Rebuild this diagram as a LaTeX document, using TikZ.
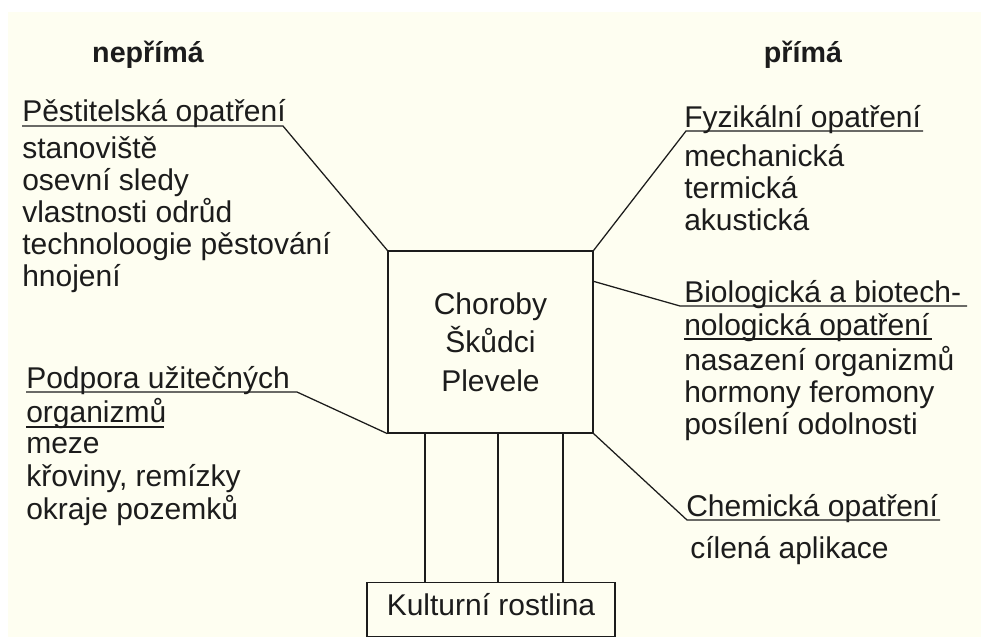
\documentclass[tikz,border=0pt]{standalone}
\usepackage{fontspec}
\setmainfont{Liberation Sans}
\usetikzlibrary{calc}
\definecolor{paper}{RGB}{254,254,241}
\definecolor{ink}{RGB}{28,28,28}
\begin{document}
\begin{tikzpicture}[x=0.75pt,y=-0.75pt,
  txt/.style={anchor=base west, inner sep=0pt, font=\fontsize{22.5}{24}\selectfont, text=ink},
  head/.style={anchor=base, inner sep=0pt, font=\fontsize{21.5}{24}\selectfont\bfseries, text=ink},
  wire/.style={draw=ink, line width=0.95pt},
  boxnode/.style={draw=ink, line width=0.95pt, inner sep=0pt, font=\fontsize{22.5}{24}\selectfont, text=ink}]
\fill[white] (0,0) rectangle (981,637);
\fill[paper] (8,12) rectangle (981,637);
\useasboundingbox (0,0) rectangle (981,637);

% headers
\node[head] (hl) at (148,62) {nepřímá};
\node[head] (hr) at (803,62) {přímá};

% central box
\node[boxnode, minimum width=153.75pt, minimum height=136.5pt, align=center,
      font=\fontsize{22.5}{29}\selectfont] (box) at (490.5,342) {Choroby\\Škůdci\\Plevele};

% crop box
\node[boxnode, minimum width=186pt, minimum height=40.5pt, text height=16.5pt, text depth=7.5pt,
      anchor=north] (kr) at (491,582) {Kulturní rostlina};

% vertical links
\coordinate (v1) at (425,0);
\coordinate (v2) at (498,0);
\coordinate (v3) at (563,0);
\draw[wire] (box.south -| v1) -- (kr.north -| v1);
\draw[wire] (box.south -| v2) -- (kr.north -| v2);
\draw[wire] (box.south -| v3) -- (kr.north -| v3);

% left group 1
\node[txt] (pa) at (22,121) {Pěstitelská opatření};
\node[txt] (pb) at (22,158) {stanoviště};
\node[txt] (pc) at (22,190) {osevní sledy};
\node[txt] (pd) at (22,222) {vlastnosti odrůd};
\node[txt] (pe) at (22,254) {technoloogie pěstování};
\node[txt] (pf) at (22,286) {hnojení};
\coordinate (u1a) at (22,126);
\coordinate (u1b) at (283,126);
\draw[wire] (u1a) -- (u1b) -- (box.north west);

% left group 2
\node[txt] (qa) at (26,388) {Podpora užitečných};
\node[txt] (qb) at (26,422) {organizmů};
\node[txt] (qc) at (26,453) {meze};
\node[txt] (qd) at (26,486) {křoviny, remízky};
\node[txt] (qe) at (26,519) {okraje pozemků};
\coordinate (u2a) at (26,392);
\coordinate (u2b) at (297,392);
\draw[wire] (u2a) -- (u2b) -- (box.south west);
\coordinate (u3a) at (26,427);
\coordinate (u3b) at (164,427);
\draw[wire] (u3a) -- (u3b);

% right group 1
\node[txt] (fa) at (684,127) {Fyzikální opatření};
\node[txt] (fb) at (684,166) {mechanická};
\node[txt] (fc) at (684,198) {termická};
\node[txt] (fd) at (684,230) {akustická};
\coordinate (u4a) at (686,131);
\coordinate (u4b) at (923,131);
\draw[wire] (u4b) -- (u4a) -- (box.north east);

% right group 2
\node[txt] (ba) at (684,302) {Biologická a biotech-};
\node[txt] (bb) at (684,335) {nologická opatření};
\node[txt] (bc) at (684,370) {nasazení organizmů};
\node[txt] (bd) at (684,402) {hormony feromony};
\node[txt] (be) at (684,434) {posílení odolnosti};
\coordinate (u5a) at (680,306);
\coordinate (u5b) at (967,306);
\draw[wire] (u5b) -- (u5a) -- ($(box.north east)+(0,31)$);
\coordinate (u6a) at (684,339);
\coordinate (u6b) at (932,339);
\draw[wire] (u6a) -- (u6b);

% right group 3
\node[txt] (ca) at (686,516) {Chemická opatření};
\node[txt] (cb) at (690,558) {cílená aplikace};
\coordinate (u7a) at (687,520);
\coordinate (u7b) at (940,520);
\draw[wire] (u7b) -- (u7a) -- (box.south east);
\end{tikzpicture}
\end{document}
